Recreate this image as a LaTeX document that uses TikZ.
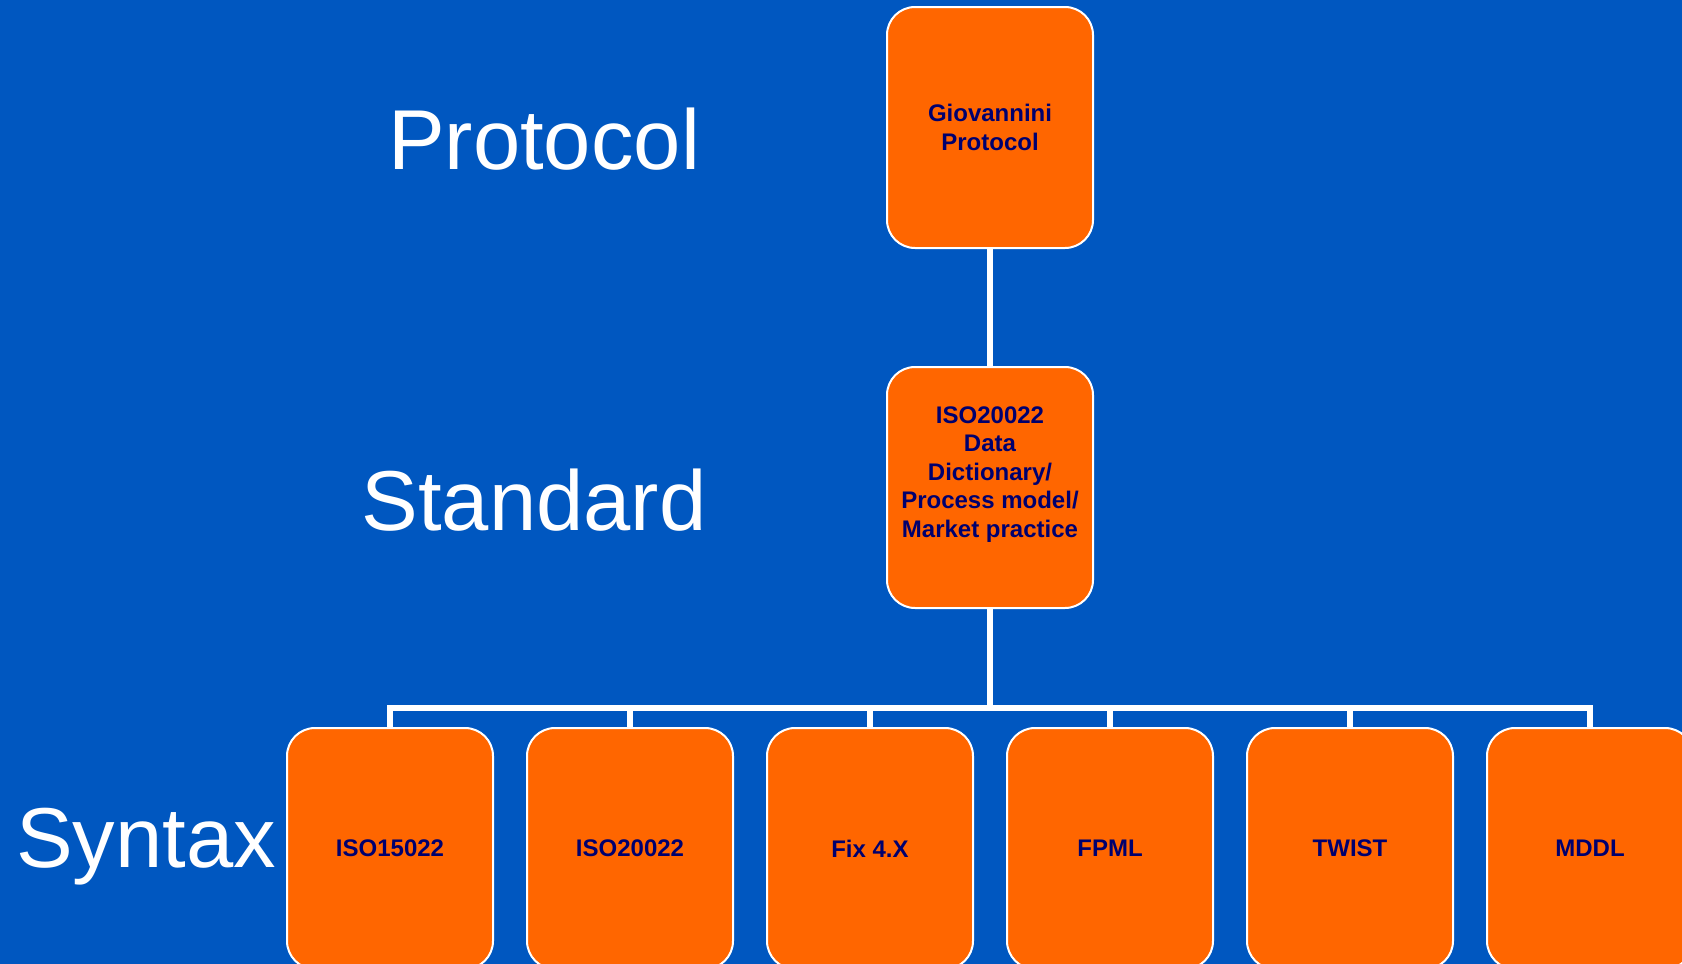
\documentclass[tikz,border=0pt]{standalone}
\usepackage{fontspec}
\setmainfont{Liberation Sans}
\usetikzlibrary{positioning}
\definecolor{slideblue}{RGB}{0,87,192}
\definecolor{boxorange}{RGB}{255,102,0}
\definecolor{labelnavy}{RGB}{0,0,110}

\begin{document}
\begin{tikzpicture}[x=1pt,y=1pt,
	box/.style={rounded corners=28pt,minimum width=206pt,minimum height=241pt,inner sep=2pt,draw=white,line width=2pt,fill=boxorange,text=labelnavy,font=\fontsize{24}{28.5}\selectfont\bfseries,align=center},
	level/.style={text=white,anchor=base,font=\fontsize{85}{90}\selectfont},
	link/.style={draw=white,line width=6pt}]

	\path[use as bounding box,clip] (0,0) rectangle (1682,-964);
	\fill[slideblue] (0,0) rectangle (1682,-964);

	\node[level] (protocol) at (544,-169.5) {Protocol};
	\node[level] (standard) at (534,-530) {Standard};
	\node[level] (syntax) at (146,-867) {Syntax};

	\node[box] (giov) at (990,-127.5) {Giovannini\\Protocol};
	\node[box, text depth=31pt] (dict) [below of=giov, node distance=360pt] {ISO20022\\Data\\Dictionary/\\Process model/\\Market practice};
	\path[link] (giov) edge (dict);

	\node[box] (iso15) at (390,-848.5) {ISO15022};
	\node[box] (iso20) [right of=iso15, node distance=240pt] {ISO20022};
	\node[box] (fix) [right of=iso20, node distance=240pt] {Fix 4.X};
	\node[box] (fpml) [right of=fix, node distance=240pt] {FPML};
	\node[box] (twist) [right of=fpml, node distance=240pt] {TWIST};
	\node[box] (mddl) [right of=twist, node distance=240pt] {MDDL};

	\node[coordinate] (bar) [below of=dict, node distance=220pt] {};
	\draw[link] (dict) -- (bar);
	\foreach \n in {iso15,iso20,fix,fpml,twist,mddl}
		\draw[link] (\n) |- (bar);

\end{tikzpicture}
\end{document}
